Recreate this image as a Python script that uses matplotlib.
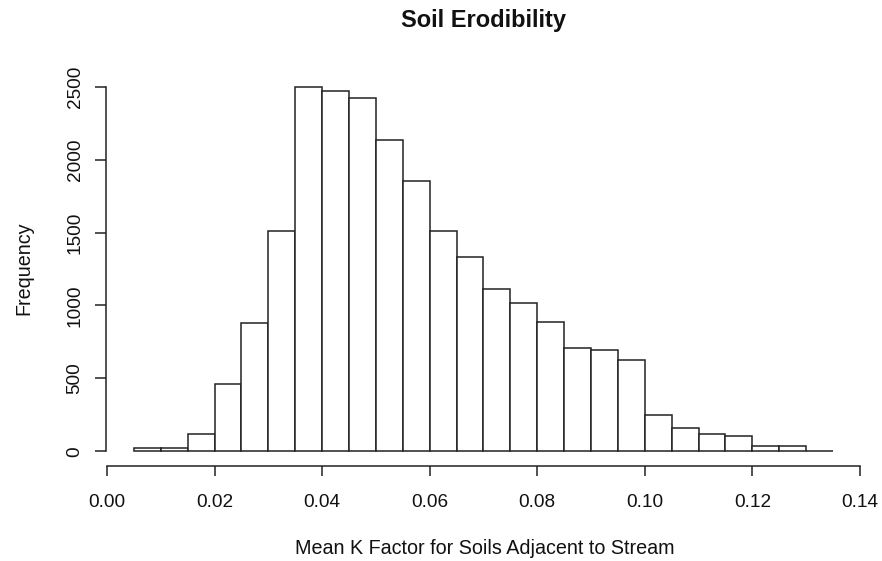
import numpy as np
import matplotlib
matplotlib.use('Agg')
import matplotlib.pyplot as plt

# ---- histogram data (bin width 0.005) ----
bin_width = 0.005
bin_left = np.round(np.arange(0.005, 0.135, bin_width), 3)
counts = [25, 25, 121, 464, 880, 1511, 2500, 2472, 2420, 2131, 1850, 1511, 1329,
          1111, 1020, 887, 707, 698, 629, 252, 158, 121, 103, 34, 34, 0]

x_ticks = [0.00, 0.02, 0.04, 0.06, 0.08, 0.10, 0.12, 0.14]
x_ticklabels = ["0.00", "0.02", "0.04", "0.06", "0.08", "0.10", "0.12", "0.14"]
y_ticks = [0, 500, 1000, 1500, 2000, 2500]

title = "Soil Erodibility"
xlabel = "Mean K Factor for Soils Adjacent to Stream"
ylabel = "Frequency"

plt.rcParams['font.family'] = ['Liberation Sans', 'DejaVu Sans']
W, H = 882, 561
fig = plt.figure(figsize=(W / 100, H / 100), dpi=100)

# plot region in pixels (R style: 4% padding around the data range)
px_left, px_right, px_top, px_bottom = 105.9, 861.0, 72.0, 466.0
ax = fig.add_axes([px_left / W, 1 - px_bottom / H,
                   (px_right - px_left) / W, (px_bottom - px_top) / H])

lc = '#222222'
ax.bar(bin_left, counts, width=bin_width, align='edge', color='white',
       edgecolor=lc, linewidth=1.1)

edges_lo = bin_left[0]
edges_hi = bin_left[-1] + bin_width
xpad = 0.04 * (edges_hi - edges_lo)
ax.set_xlim(edges_lo - xpad, edges_hi + xpad)
ymax = max(counts)
ax.set_ylim(-0.04 * ymax, 1.04 * ymax)

# R-like axes: only the tick span is drawn, no box
for s in ['top', 'right']:
    ax.spines[s].set_visible(False)
ax.spines['left'].set_bounds(y_ticks[0], y_ticks[-1])
ax.spines['bottom'].set_bounds(x_ticks[0], x_ticks[-1])
for s in ['left', 'bottom']:
    ax.spines[s].set_color(lc)
    ax.spines[s].set_linewidth(1.1)

ax.set_xticks(x_ticks)
ax.set_xticklabels(x_ticklabels)
ax.set_yticks(y_ticks)
ax.set_yticklabels([str(v) for v in y_ticks], rotation=90, va='center')
ax.tick_params(axis='x', length=7.5, width=1.1, color=lc, labelsize=13.7,
               pad=13, labelcolor='#111111')
ax.tick_params(axis='y', length=8, width=1.1, color=lc, labelsize=13.7,
               pad=8, labelcolor='#111111')

fig.text(483 / W, 1 - 20 / H, title, ha='center', va='center',
         fontsize=17, fontweight='bold', color='#111111')
fig.text(485 / W, 1 - 548 / H, xlabel, ha='center', va='center',
         fontsize=14.2, color='#111111')
fig.text(24 / W, 1 - 268 / H, ylabel, ha='center', va='center',
         rotation=90, fontsize=14.2, color='#111111')

fig.savefig('out.png', dpi=100, facecolor='white')
